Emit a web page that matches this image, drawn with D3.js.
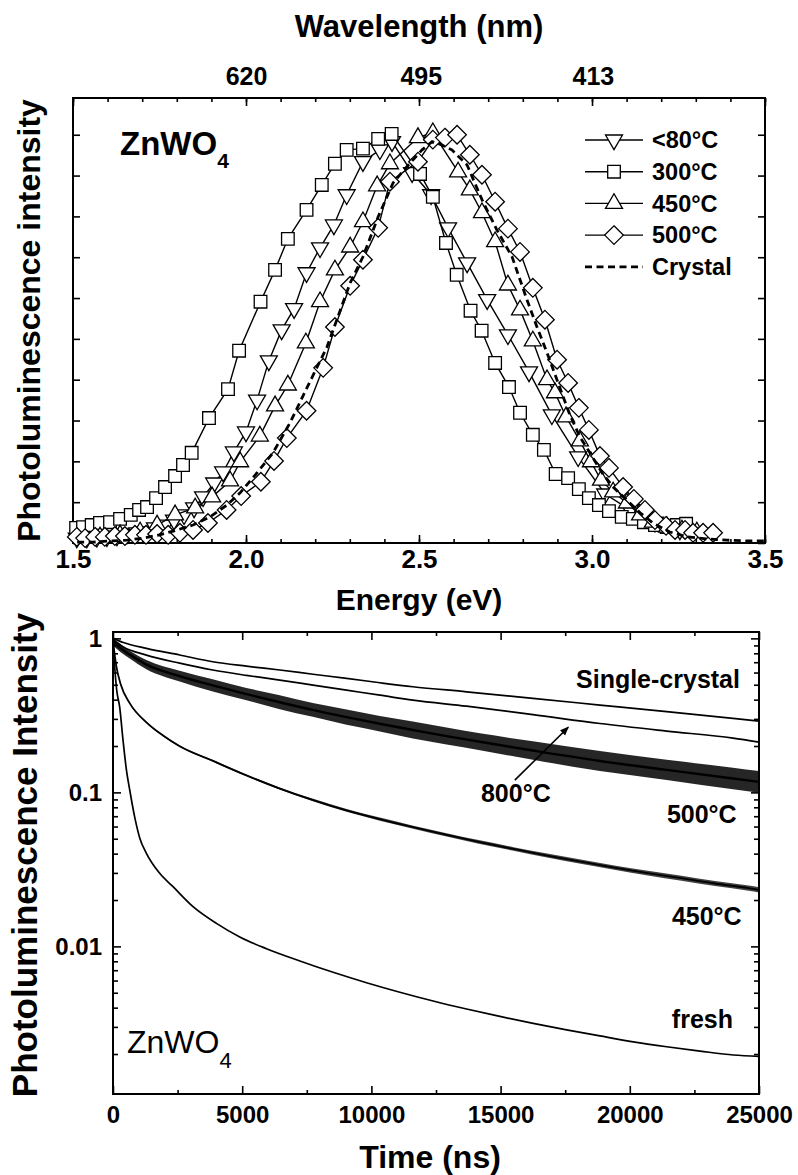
<!DOCTYPE html>
<html>
<head>
<meta charset="utf-8">
<script src="https://cdn.jsdelivr.net/npm/d3@7"></script>
<style>
body { margin:0; background:#fff; }
</style>
</head>
<body>
<svg id="fig" width="798" height="1175"></svg>
<script>
var FONT = "'Liberation Sans', Arial, Helvetica, sans-serif";
var hc = 1240;   // eV*nm, for the wavelength axis on top

/* ---------- top panel : PL spectra (energy in eV, normalised intensity) ---------- */
var energyMajor = [1.5, 2.0, 2.5, 3.0, 3.5];
var wavelengthLabels = [620, 495, 413];
var legendNames = ["<80°C", "300°C", "450°C", "500°C", "Crystal"];

var below80 = [[1.511,0.012],[1.540,0.012],[1.569,0.014],[1.598,0.015],[1.627,0.017],[1.656,0.022],[1.685,0.025],
  [1.708,0.027],[1.737,0.037],[1.766,0.044],[1.792,0.056],[1.821,0.069],[1.850,0.086],[1.876,0.113],[1.908,0.147],
  [1.934,0.174],[1.965,0.223],[2.000,0.272],[2.032,0.350],[2.066,0.446],[2.103,0.522],[2.139,0.574],[2.175,0.662],
  [2.214,0.723],[2.254,0.779],[2.291,0.853],[2.338,0.934],[2.387,0.963],[2.422,0.983],[2.480,0.907],[2.535,0.853],
  [2.584,0.772],[2.639,0.686],[2.697,0.596],[2.757,0.510],[2.818,0.419],[2.884,0.314],[2.960,0.211],[3.038,0.120],
  [3.110,0.081],[3.182,0.051],[3.254,0.032]];

var t300 = [[1.509,0.037],[1.529,0.039],[1.554,0.044],[1.578,0.049],[1.607,0.051],[1.636,0.059],[1.667,0.069],
  [1.691,0.081],[1.714,0.088],[1.740,0.110],[1.766,0.137],[1.795,0.164],[1.818,0.191],[1.843,0.221],[1.893,0.306],
  [1.948,0.377],[1.980,0.471],[2.042,0.591],[2.084,0.669],[2.121,0.745],[2.175,0.816],[2.219,0.877],[2.257,0.929],
  [2.291,0.963],[2.338,0.966],[2.382,0.990],[2.421,1.002],[2.503,0.904],[2.540,0.848],[2.578,0.735],[2.609,0.657],
  [2.649,0.569],[2.681,0.520],[2.720,0.441],[2.760,0.382],[2.792,0.319],[2.829,0.265],[2.861,0.228],[2.895,0.169],
  [2.931,0.159],[2.962,0.132],[2.991,0.110],[3.020,0.093],[3.049,0.078],[3.086,0.064],[3.118,0.059],[3.150,0.051],
  [3.182,0.044],[3.216,0.039],[3.245,0.044],[3.272,0.047]];

var t450 = [[1.578,0.015],[1.636,0.020],[1.694,0.027],[1.743,0.044],[1.795,0.069],[1.853,0.086],[1.902,0.113],
  [1.954,0.152],[1.983,0.199],[2.040,0.262],[2.084,0.336],[2.121,0.387],[2.173,0.490],[2.214,0.591],[2.257,0.669],
  [2.301,0.725],[2.338,0.787],[2.379,0.875],[2.416,0.929],[2.497,0.993],[2.540,1.005],[2.613,0.909],[2.647,0.865],
  [2.682,0.809],[2.720,0.738],[2.757,0.632],[2.792,0.571],[2.829,0.495],[2.870,0.400],[2.893,0.368],[2.925,0.309],
  [2.965,0.250],[2.997,0.199],[3.026,0.154],[3.061,0.125],[3.101,0.098],[3.139,0.069],[3.176,0.051],[3.217,0.039],
  [3.260,0.032],[3.303,0.027]];

var t500 = [[1.511,0.015],[1.535,0.012],[1.564,0.015],[1.592,0.015],[1.621,0.017],[1.650,0.017],[1.679,0.020],
  [1.711,0.020],[1.743,0.022],[1.775,0.020],[1.809,0.025],[1.847,0.032],[1.890,0.049],[1.944,0.081],[1.986,0.115],
  [2.043,0.150],[2.081,0.201],[2.118,0.257],[2.175,0.324],[2.223,0.429],[2.257,0.529],[2.301,0.630],[2.338,0.694],
  [2.382,0.772],[2.416,0.885],[2.497,0.934],[2.540,0.988],[2.575,0.993],[2.610,1.000],[2.647,0.951],[2.682,0.902],
  [2.720,0.836],[2.757,0.770],[2.792,0.713],[2.829,0.625],[2.864,0.547],[2.899,0.449],[2.931,0.392],[2.962,0.331],
  [2.991,0.277],[3.023,0.213],[3.049,0.184],[3.090,0.137],[3.121,0.108],[3.153,0.081],[3.182,0.056],[3.214,0.042],
  [3.240,0.032],[3.269,0.032],[3.292,0.025],[3.321,0.025],[3.350,0.025]];

var crystal = [[1.512,0.002],[1.558,0.002],[1.607,0.005],[1.656,0.007],[1.702,0.012],[1.751,0.020],[1.801,0.032],
  [1.847,0.044],[1.896,0.064],[1.945,0.093],[1.983,0.123],[2.032,0.172],[2.078,0.221],[2.127,0.294],[2.176,0.380],
  [2.234,0.480],[2.301,0.637],[2.338,0.701],[2.382,0.799],[2.425,0.882],[2.465,0.922],[2.509,0.963],[2.538,0.983],
  [2.566,0.975],[2.595,0.963],[2.639,0.926],[2.682,0.841],[2.725,0.767],[2.769,0.701],[2.812,0.596],[2.841,0.529],
  [2.870,0.466],[2.936,0.314],[2.965,0.260],[2.994,0.221],[3.029,0.172],[3.061,0.137],[3.101,0.105],[3.139,0.074],
  [3.176,0.049],[3.225,0.027],[3.275,0.015],[3.332,0.010],[3.390,0.007],[3.448,0.005],[3.500,0.005]];

/* ---------- bottom panel : PL decay (time ns, intensity, log) ---------- */
var timeMajor = [0, 5000, 10000, 15000, 20000, 25000];
var decayMajor = [1, 0.1, 0.01];

var singleCrystal = [[0,1.0],[400,0.94],[1293,0.861],[2580,0.78],[3860,0.705],[5165,0.66],[6454,0.623],[7740,0.585],
  [9037,0.55],[10330,0.515],[11604,0.485],[13683,0.45],[16250,0.408],[18845,0.369],[21427,0.334],[23993,0.302],[25000,0.29]];

var c800 = [[0,0.98],[400,0.88],[1293,0.779],[2580,0.69],[3860,0.623],[5165,0.575],[6454,0.536],[7740,0.497],
  [9037,0.461],[10330,0.428],[11604,0.397],[13683,0.363],[16250,0.32],[18845,0.28],[21427,0.25],[23993,0.225],[25000,0.212]];

var c500 = [[0,0.951],[300,0.861],[646,0.785],[1293,0.676],[2582,0.569],[3860,0.495],[5165,0.435],[6454,0.385],
  [7732,0.343],[9037,0.308],[10326,0.279],[11604,0.254],[12909,0.232],[14200,0.213],[16250,0.187],[18845,0.160],
  [21427,0.140],[23993,0.123],[25000,0.117]];
// half width of the noise band (decades), same points as c500
var spread500 = [0.025,0.025,0.025,0.03,0.035,0.04,0.04,0.045,0.045,0.05,0.05,0.055,0.055,0.055,0.06,0.065,0.065,0.07,0.07];

var c450 = [[0,0.955],[132,0.655],[300,0.501],[646,0.380],[1293,0.285],[1936,0.234],[2582,0.1995],[3872,0.160],
  [5165,0.1288],[6454,0.1059],[7744,0.0891],[9037,0.0764],[10326,0.0670],[11615,0.0594],[12909,0.0530],[14198,0.0475],
  [15500,0.0429],[16800,0.0389],[18100,0.0355],[19400,0.0325],[20700,0.0299],[22000,0.0277],[23300,0.0256],
  [24600,0.0239],[25000,0.0233]];
var spread450 = [0,0.003,0.003,0.003,0.004,0.005,0.005,0.006,0.006,0.007,0.008,0.009,0.01,0.01,0.011,0.012,
  0.012,0.013,0.014,0.014,0.015,0.016,0.016,0.017,0.017];

var fresh = [[0,0.97],[66,0.651],[143,0.462],[259,0.358],[387,0.219],[519,0.140],[646,0.104],[840,0.069],
  [1034,0.0506],[1293,0.0402],[1808,0.0298],[2323,0.0244],[3097,0.0181],[4003,0.0141],[4906,0.0115],[5939,0.00966],
  [7231,0.00804],[8518,0.00679],[9811,0.00581],[11100,0.00504],[12390,0.00442],[13683,0.00392],[14972,0.00351],
  [16262,0.00316],[17554,0.00287],[18845,0.00262],[20133,0.00240],[21427,0.00223],[22716,0.00209],[24005,0.00197],
  [25000,0.00193]];

var arrowFrom = [15550, 0.12], arrowTo = [17620, 0.265];

var svg = d3.select("#fig");

svg.append("defs").append("marker")
  .attr("id", "head").attr("viewBox", "0 0 10 10").attr("refX", 9).attr("refY", 5)
  .attr("markerWidth", 9).attr("markerHeight", 9).attr("markerUnits", "userSpaceOnUse")
  .attr("orient", "auto")
  .append("path").attr("d", "M0,1L10,5L0,9Z").attr("fill", "#000");

function styleAxis(g, size) {
  g.select(".domain").remove();
  g.attr("font-family", FONT).attr("font-size", size).attr("font-weight", "bold");
  g.selectAll("line").attr("stroke", "#000").attr("stroke-width", 1.6);
  g.selectAll("text").attr("fill", "#000");
}

/* ================= TOP PANEL ================= */
var T = {l: 73, r: 765, t: 98, b: 543};
var x1 = d3.scaleLinear().domain([1.5, 3.5]).range([T.l, T.r]);
var y1 = d3.scaleLinear().domain([0, 1.09]).range([T.b, T.t]);

var eMinor = d3.range(15, 36).map(function(d) { return d / 10; });
var yTicks1 = d3.range(0, 11).map(function(d) { return d / 10; });

svg.append("g").attr("transform", "translate(0," + T.b + ")")
  .call(d3.axisBottom(x1).tickValues(eMinor).tickSize(-4).tickFormat("")).call(styleAxis, 26);
svg.append("g").attr("transform", "translate(0," + T.b + ")")
  .call(d3.axisBottom(x1).tickValues(energyMajor).tickSize(-8).tickPadding(7).tickFormat(d3.format(".1f")))
  .call(styleAxis, 26);

svg.append("g").attr("transform", "translate(0," + T.t + ")")
  .call(d3.axisTop(x1).tickValues(eMinor).tickSize(-4).tickFormat("")).call(styleAxis, 26);
svg.append("g").attr("transform", "translate(0," + T.t + ")")
  .call(d3.axisTop(x1).tickValues(energyMajor).tickSize(-8).tickFormat("")).call(styleAxis, 26);
svg.append("g").attr("transform", "translate(0," + T.t + ")")
  .call(d3.axisTop(x1).tickValues(wavelengthLabels.map(function(w) { return hc / w; }))
     .tickSize(0).tickPadding(13).tickFormat(function(d, i) { return wavelengthLabels[i]; }))
  .call(styleAxis, 25);

svg.append("g").attr("transform", "translate(" + T.l + ",0)")
  .call(d3.axisLeft(y1).tickValues(yTicks1).tickSize(-7).tickFormat("")).call(styleAxis, 20);
svg.append("g").attr("transform", "translate(" + T.r + ",0)")
  .call(d3.axisRight(y1).tickValues(yTicks1).tickSize(-7).tickFormat("")).call(styleAxis, 20);

svg.append("rect").attr("x", T.l).attr("y", T.t).attr("width", T.r - T.l).attr("height", T.b - T.t)
  .attr("fill", "none").attr("stroke", "#000").attr("stroke-width", 2);

var shapes = {
  down: "M-8.5,-5L8.5,-5L0,9.7Z",
  square: "M-6.3,-6.3H6.3V6.3H-6.3Z",
  up: "M-8.5,5L8.5,5L0,-9.7Z",
  diamond: "M0,-9.3L9.3,0L0,9.3L-9.3,0Z"
};
var topSeries = [
  {data: below80, shape: "down"},
  {data: t300, shape: "square"},
  {data: t450, shape: "up"},
  {data: t500, shape: "diamond"}
];

var line1 = d3.line().x(function(d) { return x1(d[0]); }).y(function(d) { return y1(d[1]); });

topSeries.forEach(function(s) {
  var g = svg.append("g");
  g.append("path").datum(s.data).attr("d", line1)
    .attr("fill", "none").attr("stroke", "#000").attr("stroke-width", 1.4);
  g.selectAll("path.pt").data(s.data).enter().append("path").attr("class", "pt")
    .attr("d", shapes[s.shape])
    .attr("transform", function(d) { return "translate(" + x1(d[0]) + "," + y1(d[1]) + ")"; })
    .attr("fill", "#fff").attr("stroke", "#000").attr("stroke-width", 1.3);
});

svg.append("path").datum(crystal).attr("d", line1)
  .attr("fill", "none").attr("stroke", "#000").attr("stroke-width", 2.8).attr("stroke-dasharray", "7,4.5");

/* legend */
var leg = svg.append("g").attr("font-family", FONT).attr("font-weight", "bold").attr("font-size", 23.5);
legendNames.forEach(function(name, i) {
  var yy = 140 + i * 31.7;
  var ln = leg.append("line").attr("x1", 585).attr("x2", 643).attr("y1", yy).attr("y2", yy).attr("stroke", "#000");
  if (i < 4) {
    ln.attr("stroke-width", 1.4);
    leg.append("path").attr("d", shapes[topSeries[i].shape]).attr("transform", "translate(614," + yy + ")")
      .attr("fill", "#fff").attr("stroke", "#000").attr("stroke-width", 1.3);
  } else {
    ln.attr("stroke-width", 2.8).attr("stroke-dasharray", "7,4.5");
  }
  leg.append("text").attr("x", 652).attr("y", yy + 8.2).text(name);
});

var zn1 = svg.append("text").attr("x", 120).attr("y", 155).attr("font-family", FONT)
  .attr("font-weight", "bold").attr("font-size", 33).text("ZnWO");
zn1.append("tspan").attr("font-size", 21).attr("dy", 13).text("4");

svg.append("text").attr("x", (T.l + T.r) / 2).attr("y", 37).attr("text-anchor", "middle")
  .attr("font-family", FONT).attr("font-weight", "bold").attr("font-size", 31).text("Wavelength (nm)");
svg.append("text").attr("x", (T.l + T.r) / 2).attr("y", 610).attr("text-anchor", "middle")
  .attr("font-family", FONT).attr("font-weight", "bold").attr("font-size", 30).text("Energy (eV)");
svg.append("text").attr("transform", "translate(40," + ((T.t + T.b) / 2) + ") rotate(-90)")
  .attr("text-anchor", "middle").attr("font-family", FONT).attr("font-weight", "bold").attr("font-size", 32)
  .text("Photoluminescence intensity");

/* ================= BOTTOM PANEL ================= */
var B = {l: 113, r: 759, t: 632, b: 1094};
var x2 = d3.scaleLinear().domain([0, 25000]).range([B.l, B.r]);
var y2 = d3.scaleLog().domain([0.0011, 1.1]).range([B.b, B.t]);

var tMinor = d3.range(2500, 25000, 5000);
var logMinor = [];
[-3, -2, -1, 0].forEach(function(k) {
  for (var m = 2; m <= 9; m++) {
    var v = m * Math.pow(10, k);
    if (v > 0.0011 && v < 1.1) logMinor.push(v);
  }
});

svg.append("g").attr("transform", "translate(0," + B.b + ")")
  .call(d3.axisBottom(x2).tickValues(tMinor).tickSize(-4).tickFormat("")).call(styleAxis, 24);
svg.append("g").attr("transform", "translate(0," + B.b + ")")
  .call(d3.axisBottom(x2).tickValues(timeMajor).tickSize(-8).tickPadding(12).tickFormat(d3.format("d")))
  .call(styleAxis, 24);
svg.append("g").attr("transform", "translate(0," + B.t + ")")
  .call(d3.axisTop(x2).tickValues(tMinor).tickSize(-4).tickFormat("")).call(styleAxis, 24);
svg.append("g").attr("transform", "translate(0," + B.t + ")")
  .call(d3.axisTop(x2).tickValues(timeMajor).tickSize(-8).tickFormat("")).call(styleAxis, 24);

svg.append("g").attr("transform", "translate(" + B.l + ",0)")
  .call(d3.axisLeft(y2).tickValues(logMinor).tickSize(-5).tickFormat("")).call(styleAxis, 24);
svg.append("g").attr("transform", "translate(" + B.l + ",0)")
  .call(d3.axisLeft(y2).tickValues(decayMajor).tickSize(-8).tickPadding(11).tickFormat(function(d) { return String(d); }))
  .call(styleAxis, 24);
svg.append("g").attr("transform", "translate(" + B.r + ",0)")
  .call(d3.axisRight(y2).tickValues(logMinor).tickSize(-5).tickFormat("")).call(styleAxis, 24);
svg.append("g").attr("transform", "translate(" + B.r + ",0)")
  .call(d3.axisRight(y2).tickValues(decayMajor).tickSize(-8).tickFormat("")).call(styleAxis, 24);

svg.append("rect").attr("x", B.l).attr("y", B.t).attr("width", B.r - B.l).attr("height", B.b - B.t)
  .attr("fill", "none").attr("stroke", "#000").attr("stroke-width", 2);

var line2 = d3.line().curve(d3.curveMonotoneX)
  .x(function(d) { return x2(d[0]); }).y(function(d) { return y2(d[1]); });

function band(data, spread) {
  return d3.area().curve(d3.curveMonotoneX)
    .x(function(d) { return x2(d[0]); })
    .y0(function(d, i) { return y2(d[1] * Math.pow(10, -spread[i])); })
    .y1(function(d, i) { return y2(d[1] * Math.pow(10, spread[i])); })(data);
}

// the noisy traces are drawn as a dark envelope plus the mean line
svg.append("path").attr("d", band(c500, spread500)).attr("fill", "#000").attr("fill-opacity", 0.85);
svg.append("path").attr("d", band(c450, spread450)).attr("fill", "#000").attr("fill-opacity", 0.75);

[[singleCrystal, 1.7], [c800, 1.7], [c500, 2.4], [c450, 1.8], [fresh, 1.7]].forEach(function(s) {
  svg.append("path").datum(s[0]).attr("d", line2)
    .attr("fill", "none").attr("stroke", "#000").attr("stroke-width", s[1]).attr("stroke-linejoin", "round");
});

svg.append("line")
  .attr("x1", x2(arrowFrom[0])).attr("y1", y2(arrowFrom[1]))
  .attr("x2", x2(arrowTo[0])).attr("y2", y2(arrowTo[1]))
  .attr("stroke", "#000").attr("stroke-width", 1.6).attr("marker-end", "url(#head)");

/* curve labels, anchored in data coords */
var curveLabels = [
  {text: "Single-crystal", t: 24264, v: 0.476, anchor: "end"},
  {text: "800°C", t: 15590, v: 0.0869, anchor: "middle"},
  {text: "500°C", t: 24136, v: 0.0632, anchor: "end"},
  {text: "450°C", t: 24330, v: 0.01375, anchor: "end"},
  {text: "fresh", t: 23994, v: 0.00295, anchor: "end"}
];
svg.selectAll("text.clab").data(curveLabels).enter().append("text").attr("class", "clab")
  .attr("x", function(d) { return x2(d.t); }).attr("y", function(d) { return y2(d.v); })
  .attr("text-anchor", function(d) { return d.anchor; })
  .attr("font-family", FONT).attr("font-weight", "bold").attr("font-size", 25)
  .text(function(d) { return d.text; });

var zn2 = svg.append("text").attr("x", 127).attr("y", 1053).attr("font-family", FONT)
  .attr("font-size", 32).text("ZnWO");
zn2.append("tspan").attr("font-size", 22).attr("dy", 15).text("4");

svg.append("text").attr("x", 430).attr("y", 1168).attr("text-anchor", "middle")
  .attr("font-family", FONT).attr("font-weight", "bold").attr("font-size", 32).text("Time (ns)");
svg.append("text").attr("transform", "translate(37,855) rotate(-90)")
  .attr("text-anchor", "middle").attr("font-family", FONT).attr("font-weight", "bold").attr("font-size", 35)
  .text("Photoluminescence Intensity");
</script>
</body>
</html>
